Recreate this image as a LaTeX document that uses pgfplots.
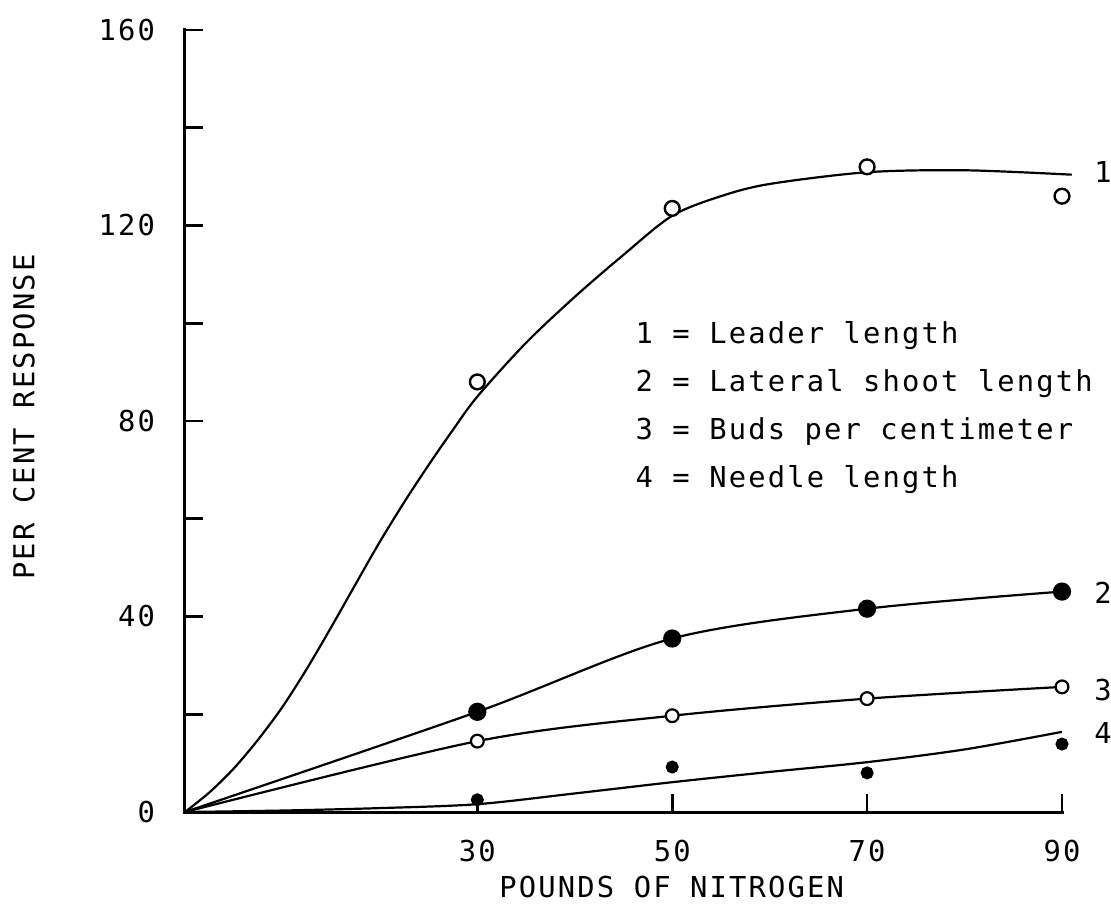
\documentclass[border=0pt]{standalone}
\usepackage{fontspec}
\setmainfont{DejaVu Sans Mono}[LetterSpace=7.5]
\usepackage{pgfplots}
\pgfplotsset{compat=1.18}
\begin{document}
\fontsize{14.4}{17}\selectfont
\begin{tikzpicture}
\useasboundingbox (-92.5pt,-49.5pt) rectangle (463pt,406pt);
\begin{axis}[
  scale only axis, width=438.5pt, height=391pt,
  xmin=0, xmax=90, ymin=0, ymax=160,
  axis lines=left, axis line style={-, line width=1.5pt, line cap=rect},
  tick align=inside, major tick length=9pt,
  tick style={line width=1.3pt, black},
  xtick={30,50,70,90}, xticklabels={30,50,70,90},
  ytick={0,20,40,60,80,100,120,140,160}, yticklabels={0,,40,,80,,120,,160},
  yticklabel style={xshift=-10pt},
  xticklabel style={yshift=-9pt},
  xlabel={POUNDS OF NITROGEN}, ylabel={PER CENT RESPONSE},
  x label style={at={(axis description cs:0.555,-0.0959)}, anchor=center},
  y label style={at={(axis description cs:-0.1836,0.505)}, anchor=center, rotate=0},
  clip=false,
  every axis plot/.append style={line width=1.1pt, black},
]
% curve 1: leader length
\addplot[smooth] coordinates {(0,0) (2.5,4) (5,8.9) (7.5,14.8) (10,21.5) (12.5,29.3) (15,37.8) (17.5,46.6) (20,55.3) (22.5,63.4) (25,71) (27.5,78.2) (30,85) (35,96) (40,105.4) (45,114) (50,122) (55,126) (60,128.5) (70,130.9) (80,131.3) (91,130.4)};
\addplot[only marks, mark=*, mark size=3.7pt, mark options={fill=white, line width=1.2pt}] coordinates {(30,88) (50,123.5) (70,132) (90,126)};
% curve 2: lateral shoot length
\addplot[smooth] coordinates {(0,0) (30,20.5) (50,35.5) (70,41.6) (90,45.1)};
\addplot[only marks, mark=*, mark size=4pt, mark options={fill=black}] coordinates {(30,20.5) (50,35.5) (70,41.6) (90,45.1)};
% curve 3: buds per centimeter
\addplot[smooth] coordinates {(0,0) (30,14.5) (50,19.7) (70,23.2) (90,25.6)};
\addplot[only marks, mark=*, mark size=3.2pt, mark options={fill=white, line width=1.1pt}] coordinates {(30,14.5) (50,19.7) (70,23.2) (90,25.6)};
% curve 4: needle length
\addplot[smooth] coordinates {(0,0) (10,0.3) (20,0.8) (30,1.6) (40,3.8) (50,6.1) (60,8.2) (70,10.2) (80,12.8) (90,16.4)};
\addplot[only marks, mark=*, mark size=2.7pt, mark options={fill=black}] coordinates {(30,2.5) (50,9.2) (70,8.0) (90,13.9)};
% legend text
\node[anchor=base west, inner sep=0pt] at (axis cs:46.2,95.9) {1 = Leader length};
\node[anchor=base west, inner sep=0pt] at (axis cs:46.2,86.1) {2 = Lateral shoot length};
\node[anchor=base west, inner sep=0pt] at (axis cs:46.2,76.2) {3 = Buds per centimeter};
\node[anchor=base west, inner sep=0pt] at (axis cs:46.2,66.4) {4 = Needle length};
% curve labels
\node[inner sep=0pt] at (axis cs:94.2,131) {1};
\node[inner sep=0pt] at (axis cs:94.2,44.9) {2};
\node[inner sep=0pt] at (axis cs:94.2,25.0) {3};
\node[inner sep=0pt] at (axis cs:94.2,16.2) {4};
\end{axis}
\end{tikzpicture}
\end{document}
